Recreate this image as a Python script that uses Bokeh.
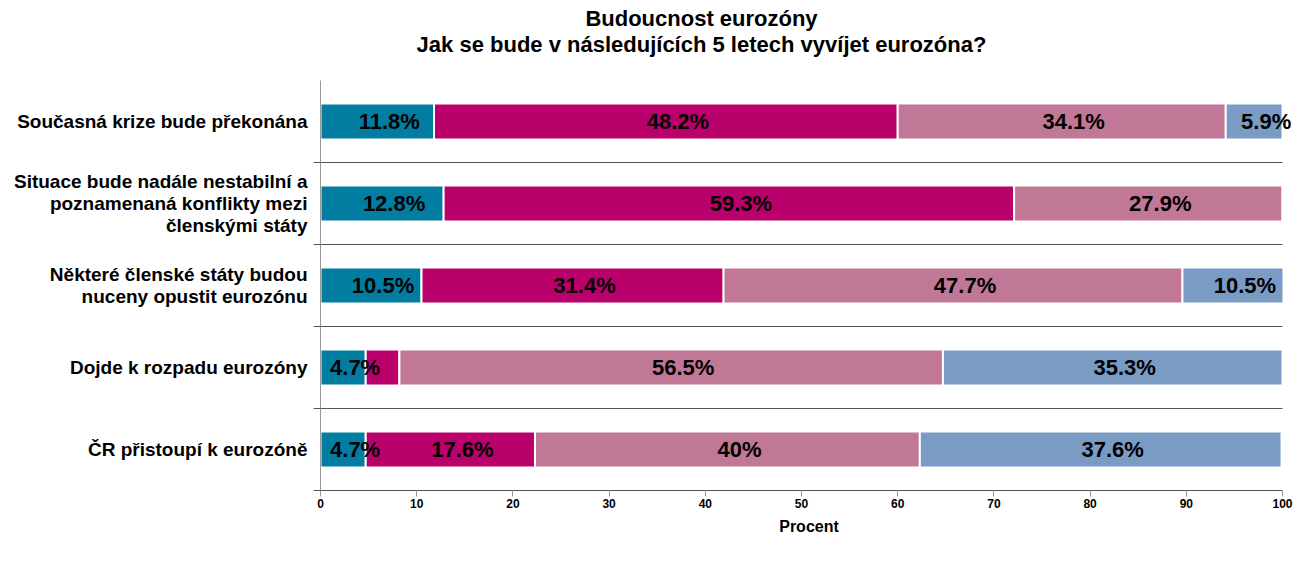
from bokeh.plotting import figure
from bokeh.layouts import column
from bokeh.models import (ColumnDataSource, Range1d, FixedTicker, Legend, LegendItem, Label)
from bokeh.core.properties import value
from bokeh.embed import file_html
from bokeh.resources import INLINE

FONT = "Liberation Sans"

categories = [
    "Současná krize bude překonána",
    "Situace bude nadále nestabilní a\npoznamenaná konflikty mezi\nčlenskými státy",
    "Některé členské státy budou\nnuceny opustit eurozónu",
    "Dojde k rozpadu eurozóny",
    "ČR přistoupí k eurozóně",
]
series = ["Pravděpodobné", "Spíše pravděpodobné", "Spíše nepravděpodobné", "Nepravděpodobné"]
pravdepodobne = [11.8, 12.8, 10.5, 4.7, 4.7]
spise_pravdepodobne = [48.2, 59.3, 31.4, 3.5, 17.6]
spise_nepravdepodobne = [34.1, 27.9, 47.7, 56.5, 40.0]
nepravdepodobne = [5.9, 0.0, 10.5, 35.3, 37.6]
colors = ["#007DA0", "#BA006B", "#C07896", "#7A9CC4"]
x_ticks = [0, 10, 20, 30, 40, 50, 60, 70, 80, 90, 100]
title_line1 = "Budoucnost eurozóny"
title_line2 = "Jak se bude v následujících 5 letech vyvíjet eurozóna?"
x_label = "Procent"

values = [pravdepodobne, spise_pravdepodobne, spise_nepravdepodobne, nepravdepodobne]
keys = ["s0", "s1", "s2", "s3"]
n = len(categories)
ys = [n - 0.5 - i for i in range(n)]
separators = list(range(1, n))

W = 1297
H_TITLE, H_MAIN, H_LEG = 80, 469, 32
FRAME_LEFT = 320
AXIS_END_PX = 1282  # pixel where 100 % sits; frame itself runs to the right edge
x_end = 100 * (W - FRAME_LEFT) / (AXIS_END_PX - FRAME_LEFT)

# ---------------- title strip ----------------
pt = figure(width=W, height=H_TITLE, output_backend="svg", toolbar_location=None,
            x_axis_location=None, y_axis_location=None, min_border=0,
            x_range=Range1d(0, 1), y_range=Range1d(0, 1))
pt.outline_line_color = None
pt.grid.grid_line_color = None
for txt, yy in ((title_line1, 62), (title_line2, 36)):
    pt.add_layout(Label(x=381, y=yy, x_units="screen", y_units="screen", text=txt,
                        text_align="center", text_baseline="middle", text_font=FONT,
                        text_font_style="bold", text_font_size="22px", text_color="black"))

# ---------------- main chart ----------------
data = {"y": ys}
for k, v in zip(keys, values):
    data[k] = v
src = ColumnDataSource(data)

fig = figure(width=W, height=H_MAIN, output_backend="svg", toolbar_location=None,
             x_range=Range1d(0, x_end), y_range=Range1d(0, n),
             min_border_left=FRAME_LEFT, min_border_right=0, min_border_top=0,
             min_border_bottom=59)
fig.outline_line_color = None
fig.background_fill_color = "white"

# category separators
fig.segment(x0=[0] * len(separators), x1=[100] * len(separators), y0=separators, y1=separators,
            line_color="#555555", line_width=1)

renderers = fig.hbar_stack(keys, y="y", height=0.44, color=colors, source=src,
                           line_color="white", line_width=2)

lx, ly, lt = [], [], []
for i in range(n):
    cum = 0.0
    for v in values:
        val = v[i]
        if val >= 4:
            lx.append(cum + val / 2)
            ly.append(ys[i])
            lt.append(f"{val:g}%")
        cum += val
lsrc = ColumnDataSource(dict(x=lx, y=ly, text=lt))
fig.text(x="x", y="y", text="text", source=lsrc, x_offset=12,
         text_align="center", text_baseline="middle",
         text_font=value(FONT), text_font_style="bold", text_font_size="22px", text_color="black")

fig.xaxis.ticker = FixedTicker(ticks=x_ticks)
fig.xaxis.bounds = (0, 100)
fig.xaxis.axis_label = x_label
fig.xaxis.axis_label_text_font = FONT
fig.xaxis.axis_label_text_font_style = "bold"
fig.xaxis.axis_label_text_font_size = "16px"
fig.xaxis.axis_label_text_color = "black"
fig.xaxis.axis_label_standoff = 7
fig.xaxis.major_label_standoff = 2
fig.xaxis.major_label_text_font = FONT
fig.xaxis.major_label_text_font_style = "bold"
fig.xaxis.major_label_text_font_size = "12px"
fig.xaxis.major_label_text_color = "black"
fig.xaxis.axis_line_color = "#555555"
fig.xaxis.major_tick_line_color = "#999999"
fig.xaxis.major_tick_out = 6
fig.xaxis.major_tick_in = 0
fig.xaxis.minor_tick_line_color = None

fig.yaxis.ticker = FixedTicker(ticks=ys, minor_ticks=[0] + separators)
fig.yaxis.major_label_overrides = {y: c for y, c in zip(ys, categories)}
fig.yaxis.major_label_text_font = FONT
fig.yaxis.major_label_text_font_style = "bold"
fig.yaxis.major_label_text_font_size = "19px"
fig.yaxis.major_label_text_line_height = 1.05
fig.yaxis.major_label_text_color = "black"
fig.yaxis.major_label_standoff = 6
fig.yaxis.axis_line_color = "#999999"
fig.yaxis.major_tick_out = 0
fig.yaxis.major_tick_in = 0
fig.yaxis.major_tick_line_color = None
fig.yaxis.minor_tick_line_color = "#555555"
fig.yaxis.minor_tick_out = 7
fig.yaxis.minor_tick_in = 0

fig.xgrid.grid_line_color = None
fig.ygrid.grid_line_color = None

# ---------------- legend strip ----------------
pl = figure(width=W, height=H_LEG, output_backend="svg", toolbar_location=None,
            x_axis_location=None, y_axis_location=None, min_border=0,
            x_range=Range1d(0, 1), y_range=Range1d(0, 1))
pl.outline_line_color = None
pl.grid.grid_line_color = None
leg_renderers = [pl.hbar(y=[], right=[], height=1, color=c) for c in colors]
items = [LegendItem(label=s, renderers=[r]) for s, r in zip(series, leg_renderers)]
legend = Legend(items=items, orientation="horizontal", location="center",
                glyph_width=18, glyph_height=14, label_standoff=10, spacing=29,
                padding=5, margin=0,
                label_text_font=FONT, label_text_font_size="22px", label_text_color="black",
                border_line_color="#999999", border_line_width=1,
                background_fill_color="white", background_fill_alpha=1)
pl.add_layout(legend, "below")

p = column(pt, fig, pl, spacing=0)
open("out.html", "w").write(file_html(p, INLINE))
